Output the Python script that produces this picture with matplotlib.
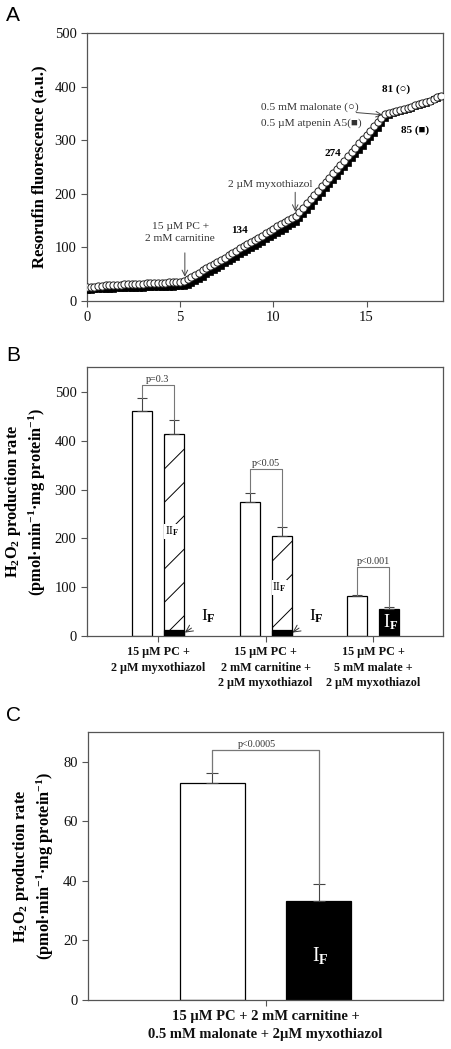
import numpy as np
import matplotlib
matplotlib.use("Agg")
import matplotlib.pyplot as plt

plt.rcParams['font.family'] = ['Liberation Serif', 'DejaVu Serif']
plt.rcParams['mathtext.fontset'] = 'custom'
plt.rcParams['mathtext.rm'] = 'Liberation Serif:bold'
plt.rcParams['mathtext.bf'] = 'Liberation Serif:bold'
plt.rcParams['mathtext.it'] = 'Liberation Serif:bold:italic'
plt.rcParams['mathtext.default'] = 'rm'
plt.rcParams['hatch.color'] = '#333333'
plt.rcParams['hatch.linewidth'] = 0.7

# ---------------- Panel A data ----------------
time_min = [0.0, 0.2, 0.4, 0.6, 0.8, 1.0, 1.2, 1.4, 1.6, 1.8,
            2.0, 2.2, 2.4, 2.6, 2.8, 3.0, 3.2, 3.4, 3.6, 3.8,
            4.0, 4.2, 4.4, 4.6, 4.8, 5.0, 5.2, 5.4, 5.6, 5.8,
            6.0, 6.2, 6.4, 6.6, 6.8, 7.0, 7.2, 7.4, 7.6, 7.8,
            8.0, 8.2, 8.4, 8.6, 8.8, 9.0, 9.2, 9.4, 9.6, 9.8,
            10.0, 10.2, 10.4, 10.6, 10.8, 11.0, 11.2, 11.4, 11.6, 11.8,
            12.0, 12.2, 12.4, 12.6, 12.8, 13.0, 13.2, 13.4, 13.6, 13.8,
            14.0, 14.2, 14.4, 14.6, 14.8, 15.0, 15.2, 15.4, 15.6, 15.8,
            16.0, 16.2, 16.4, 16.6, 16.8, 17.0, 17.2, 17.4, 17.6, 17.8,
            18.0, 18.2, 18.4, 18.6, 18.8, 19.0]
malonate_trace = [26, 27, 27, 28, 28, 29, 29, 30, 30, 30,
                  31, 31, 31, 32, 32, 32, 33, 33, 33, 34,
                  34, 34, 35, 35, 35, 36, 37, 41, 45, 49,
                  53, 57, 61, 65, 69, 73, 77, 81, 85, 89,
                  94, 98, 102, 106, 110, 114, 118, 122, 126, 130,
                  135, 139, 143, 147, 151, 155, 159, 166, 174, 182,
                  190, 198, 206, 214, 222, 230, 238, 246, 254, 262,
                  270, 278, 286, 294, 302, 310, 318, 326, 334, 342,
                  348, 350, 352, 354, 356, 358, 360, 362, 365, 367,
                  370, 372, 374, 377, 380, 383]
atpenin_trace = [21, 21, 22, 22, 22, 23, 23, 23, 24, 24,
                 24, 24, 25, 25, 25, 25, 26, 26, 26, 26,
                 27, 27, 27, 27, 28, 28, 28, 30, 33, 37,
                 41, 45, 50, 54, 58, 62, 66, 70, 75, 79,
                 83, 87, 91, 95, 99, 103, 107, 111, 115, 119,
                 123, 127, 131, 135, 139, 143, 148, 155, 162, 170,
                 178, 186, 194, 202, 210, 218, 226, 234, 242, 250,
                 258, 266, 274, 282, 290, 298, 306, 314, 323, 332,
                 342, 347, 350, 352, 354, 356, 358, 360, 363, 365,
                 368, 370, 373, 376, 379, 382]
a_xticks = [0, 5, 10, 15]
a_yticks = [0, 100, 200, 300, 400, 500]

# ---------------- Panel B data ----------------
b_groups = ['15 µM PC +\n2 µM myxothiazol',
            '15 µM PC +\n2 mM carnitine +\n2 µM myxothiazol',
            '15 µM PC +\n5 mM malate +\n2 µM myxothiazol']
b_control = [461, 274, 82]
b_control_err = [27, 18, 2]
b_treated = [414, 205, 56]
b_treated_err = [28, 18, 4]
b_IF_part = [12, 12, 56]
b_treated_kind = ['IIF', 'IIF', 'IF']
b_pvals = ['p=0.3', 'p<0.05', 'p<0.001']
b_bracket = [514, 342, 141]
b_yticks = [0, 100, 200, 300, 400, 500]

# ---------------- Panel C data ----------------
c_group = ['15 µM PC + 2 mM carnitine +\n0.5 mM malonate + 2µM myxothiazol']
c_control = [73.0]
c_control_err = [3.2]
c_treated = [33.4]
c_treated_err = [5.4]
c_pval = 'p<0.0005'
c_bracket = 84
c_yticks = [0, 20, 40, 60, 80]

W, H = 451, 1049
fig = plt.figure(figsize=(W / 100, H / 100), dpi=100)

def ax_rect(l, t, r, b):
    return [l / W, 1 - b / H, (r - l) / W, (b - t) / H]

spine_col = '#555555'
err_col = '#444444'
brk_col = '#777777'

def style_axes(ax):
    for s in ax.spines.values():
        s.set_color(spine_col)
        s.set_linewidth(0.9)
    ax.tick_params(direction='out', color=spine_col, length=4, width=0.8,
                   labelsize=10.5, labelcolor='#111111')

ylab_B = 'H$_2$O$_2$ production rate\n(pmol·min$^{-1}$·mg protein$^{-1}$)'

# ================= Panel A =================
axA = fig.add_axes(ax_rect(87, 33, 443, 301))
style_axes(axA)
axA.plot(time_min, atpenin_trace, linestyle='none', marker='s', ms=5.0,
         mfc='black', mec='black', mew=0.5, zorder=3)
axA.plot(time_min, malonate_trace, linestyle='none', marker='o', ms=5.2,
         mfc='white', mec='#222222', mew=0.7, zorder=4)
axA.set_xlim(0, 19.1)
axA.set_ylim(0, 500)
axA.set_xticks(a_xticks)
axA.set_yticks(a_yticks)
axA.set_ylabel('Resorufin fluorescence (a.u.)', fontsize=12, fontweight='bold', labelpad=5)

ann_fs = 8.2
axA.text(5.0, 128, '15 µM PC +\n2 mM carnitine', ha='center', va='center',
         fontsize=ann_fs, color='#333333', linespacing=1.45)
axA.annotate('', xy=(5.25, 40), xytext=(5.25, 95),
             arrowprops=dict(arrowstyle='->', color='#444444', lw=0.7))
axA.text(8.2, 131, '134', ha='center', va='center', fontsize=8, fontweight='bold')
axA.text(9.85, 218, '2 µM myxothiazol', ha='center', va='center',
         fontsize=ann_fs, color='#333333')
axA.annotate('', xy=(11.17, 162), xytext=(11.17, 208),
             arrowprops=dict(arrowstyle='->', color='#444444', lw=0.7))
axA.text(13.2, 275, '274', ha='center', va='center', fontsize=8, fontweight='bold')
axA.text(9.35, 361, '0.5 mM malonate (○)', ha='left', va='center',
         fontsize=ann_fs, color='#333333', family=['Liberation Serif', 'DejaVu Sans'])
axA.text(9.35, 332, '0.5 µM atpenin A5(■)', ha='left', va='center',
         fontsize=ann_fs, color='#333333', family=['Liberation Serif', 'DejaVu Sans'])
axA.annotate('', xy=(16.0, 347), xytext=(14.3, 352),
             arrowprops=dict(arrowstyle='->', color='#444444', lw=0.7))
axA.text(16.6, 396, '81 (○)', ha='center', va='center', fontsize=8,
         fontweight='bold', family=['Liberation Serif', 'DejaVu Sans'])
axA.text(17.6, 319, '85 (■)', ha='center', va='center', fontsize=8,
         fontweight='bold', family=['Liberation Serif', 'DejaVu Sans'])

# ================= Panel B =================
axB = fig.add_axes(ax_rect(87, 367, 443, 636))
style_axes(axB)
xB = np.arange(len(b_groups))
off = 0.149
bw = 0.186
for i in range(len(b_groups)):
    axB.bar(xB[i] - off, b_control[i], width=bw, color='white',
            edgecolor='black', linewidth=0.9, zorder=2)
    if b_treated_kind[i] == 'IIF':
        axB.bar(xB[i] + off, b_treated[i], width=bw, color='white',
                edgecolor='black', linewidth=0.9, hatch='/', zorder=2)
        axB.bar(xB[i] + off, b_IF_part[i], width=bw, color='black',
                edgecolor='black', linewidth=0.9, zorder=3)
    else:
        axB.bar(xB[i] + off, b_treated[i], width=bw, color='black',
                edgecolor='black', linewidth=0.9, zorder=2)
    axB.errorbar([xB[i] - off], [b_control[i]], yerr=[[0], [b_control_err[i]]],
                 fmt='none', ecolor=err_col, elinewidth=0.8, capsize=3.5, capthick=0.8, zorder=4)
    axB.errorbar([xB[i] + off], [b_treated[i]], yerr=[[0], [b_treated_err[i]]],
                 fmt='none', ecolor=err_col, elinewidth=0.8, capsize=3.5, capthick=0.8, zorder=4)
    top1 = b_control[i] + b_control_err[i]
    top2 = b_treated[i] + b_treated_err[i]
    yb = b_bracket[i]
    axB.plot([xB[i] - off, xB[i] - off, xB[i] + off, xB[i] + off],
             [top1, yb, yb, top2], color=brk_col, lw=0.8, zorder=4)
    axB.text(xB[i], yb + 3, b_pvals[i], ha='center', va='bottom',
             fontsize=7.3, color='#333333')

# labels inside / near bars
for i in range(2):
    axB.text(xB[i] + off - 0.02, [214, 100][i], 'II$_F$', ha='center', va='center',
             fontsize=8.5, color='black', zorder=5,
             bbox=dict(boxstyle='square,pad=0.05', fc='white', ec='none'))
    axB.annotate('I$_F$', xy=(xB[i] + 0.25, 7), xytext=(xB[i] + 0.47, 40),
                 ha='center', va='center', fontsize=12.5,
                 arrowprops=dict(arrowstyle='->', color='#333333', lw=0.7,
                                 shrinkA=6, shrinkB=0), zorder=5)
axB.text(xB[2] + off + 0.01, 29, 'I$_F$', ha='center', va='center',
         fontsize=13, color='white', zorder=5)

axB.set_xlim(-0.66, 2.65)
axB.set_ylim(0, 551)
axB.set_yticks(b_yticks)
axB.set_xticks(xB)
axB.set_xticklabels(b_groups, fontsize=8.7, fontweight='bold', linespacing=1.35)
axB.set_ylabel(ylab_B, fontsize=11.8, fontweight='bold', labelpad=5, linespacing=1.25)

# ================= Panel C =================
axC = fig.add_axes(ax_rect(88, 732, 443, 1000))
style_axes(axC)
offC = 0.30
bwC = 0.366
axC.bar([-offC], c_control, width=bwC, color='white', edgecolor='black', linewidth=0.9, zorder=2)
axC.bar([offC], c_treated, width=bwC, color='black', edgecolor='black', linewidth=0.9, zorder=2)
axC.errorbar([-offC], c_control, yerr=[[0], c_control_err], fmt='none', ecolor=err_col,
             elinewidth=0.8, capsize=4, capthick=0.8, zorder=4)
axC.errorbar([offC], c_treated, yerr=[[0], c_treated_err], fmt='none', ecolor=err_col,
             elinewidth=0.8, capsize=4, capthick=0.8, zorder=4)
topc1 = c_control[0] + c_control_err[0]
topc2 = c_treated[0] + c_treated_err[0]
axC.plot([-offC, -offC, offC, offC], [topc1, c_bracket, c_bracket, topc2],
         color=brk_col, lw=0.9, zorder=4)
axC.text(-0.05, c_bracket + 0.4, c_pval, ha='center', va='bottom', fontsize=7.3, color='#333333')
axC.text(offC + 0.01, 15, 'I$_F$', ha='center', va='center', fontsize=14.5, color='white', zorder=5)
axC.set_xlim(-1, 1)
axC.set_ylim(0, 90)
axC.set_yticks(c_yticks)
axC.set_xticks([0])
axC.set_xticklabels(c_group, fontsize=10.5, fontweight='bold', linespacing=1.45)
axC.set_ylabel(ylab_B, fontsize=11.8, fontweight='bold', labelpad=5, linespacing=1.25)

# panel letters
for lab, ytop in [('A', 6), ('B', 346), ('C', 706)]:
    fig.text(6 / W, 1 - ytop / H, lab, ha='left', va='top', fontsize=15,
             family='Liberation Sans')

fig.savefig('out.png', dpi=100)
